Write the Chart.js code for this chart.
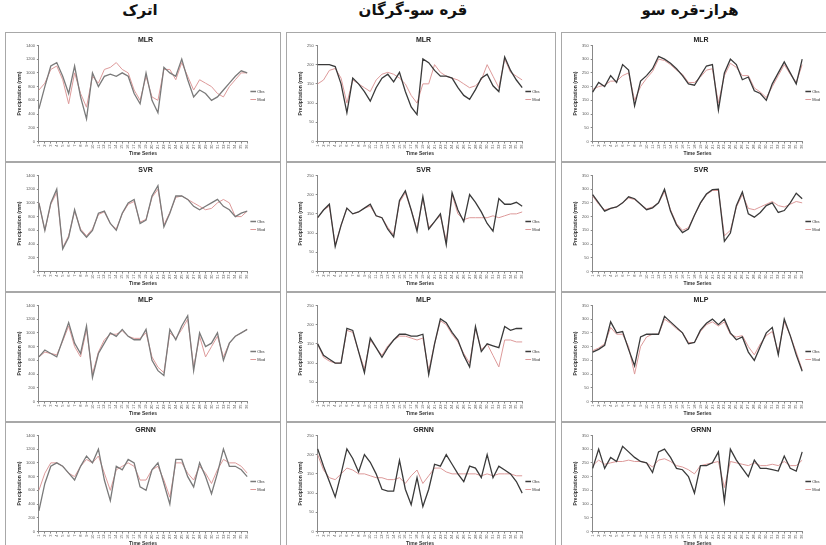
<!DOCTYPE html>
<html>
<head>
<meta charset="utf-8">
<script src="https://cdn.jsdelivr.net/npm/chart.js@4.4.1/dist/chart.umd.min.js"></script>
<style>
  body { margin: 0; background: #fff; width: 826px; height: 545px; overflow: hidden; position: relative; font-family: 'DejaVu Sans', sans-serif; }
  .head { position: absolute; top: 1px; width: 240px; text-align: center; direction: rtl; font-weight: bold; font-size: 15px; color: #111; }
  .panel { position: absolute; border: 1px solid #a8a8a8; box-sizing: border-box; background: #fff; }
  canvas { display: block; }
</style>
</head>
<body>
<script>
// basins (column titles) and models (row titles)
const basins = ['اترک', 'قره سو-گرگان', 'هراز-قره سو']
const models = ['MLR', 'SVR', 'MLP', 'GRNN']
const seriesNames = ['Obs', 'Mod']
const timeLabels = ['1','2','3','4','5','6','7','8','9','10','11','12','13','14','15','16','17','18',
                    '19','20','21','22','23','24','25','26','27','28','29','30','31','32','33','34','35','36']
const yMax = [1400, 250, 350]
const yStep = [200, 50, 50]

// اترک
const atrakMlrObs = [475,800,1100,1150,950,700,1100,650,330,1000,800,950,980,950,1000,950,700,550,1000,600,420,1080,1000,950,1200,900,650,750,700,600,650,750,850,950,1030,1000]
const atrakMlrMod = [750,850,1050,1100,900,550,1000,700,500,950,850,1050,1080,1150,1050,1000,750,600,950,650,600,1050,1050,900,1150,950,750,900,850,800,700,650,800,900,1000,1000]
const atrakSvrObs = [1000,600,1000,1200,330,500,900,600,500,600,850,880,700,600,850,1000,1050,700,750,1100,1250,650,850,1100,1100,1050,950,900,950,1000,1050,950,900,800,850,880]
const atrakSvrMod = [1000,600,980,1150,350,520,880,620,520,620,830,870,700,620,840,980,1020,720,760,1080,1200,680,860,1080,1100,1050,1000,950,900,920,1000,1050,1000,800,800,880]
const atrakMlpObs = [650,750,700,650,900,1150,850,700,1100,350,700,850,1000,950,1050,950,900,900,1050,600,450,380,1050,900,1100,1250,450,1000,800,850,1000,600,850,950,1000,1050]
const atrakMlpMod = [650,720,700,680,880,1100,800,650,1050,400,720,900,980,980,1030,950,920,920,1000,650,500,420,1000,920,1050,1200,500,950,650,800,950,650,850,950,1000,1050]
const atrakGrnnObs = [300,700,950,1000,950,850,750,950,1100,1000,1200,750,450,950,900,1050,1000,650,600,900,1000,700,400,1050,1050,800,650,1000,800,550,850,1200,950,950,900,800]
const atrakGrnnMod = [600,850,1000,1000,950,850,800,950,1050,1000,1100,850,600,900,950,1000,950,750,750,900,950,750,500,1000,1000,850,750,950,850,700,900,1050,1000,1000,950,850]

// قره سو-گرگان
const gorganMlrObs = [200,200,200,195,150,75,165,150,130,105,140,165,175,155,180,130,90,70,215,205,185,170,170,165,140,120,110,135,165,175,145,130,220,185,160,140]
const gorganMlrMod = [150,160,185,190,165,100,160,150,140,130,160,175,180,175,165,150,120,100,150,150,200,180,170,165,160,150,140,145,160,200,170,140,215,180,170,160]
const gorganSvrObs = [140,160,175,65,120,165,150,155,165,175,145,140,110,90,185,210,160,105,195,110,130,150,70,205,160,130,200,180,155,125,105,190,175,175,180,170]
const gorganSvrMod = [140,160,170,70,120,165,150,155,165,170,145,140,115,95,180,205,160,110,190,115,130,145,80,200,150,135,140,140,140,140,145,140,145,150,150,155]
const gorganMlpObs = [150,120,110,100,100,190,185,130,75,165,140,115,140,160,175,175,170,170,175,70,150,215,205,180,160,120,90,195,130,150,145,140,195,185,190,190]
const gorganMlpMod = [150,115,105,100,100,185,180,130,85,160,140,120,145,160,170,170,165,160,165,80,150,210,200,175,155,125,100,190,135,150,120,90,160,160,155,155]
const gorganGrnnObs = [215,170,130,90,150,215,190,155,200,180,150,110,105,105,185,110,70,140,65,110,175,170,200,175,150,130,170,165,140,200,140,170,160,150,130,100]
const gorganGrnnMod = [200,160,140,135,150,165,160,150,150,145,140,140,135,135,140,125,145,160,125,145,165,165,155,150,150,150,150,150,145,150,145,150,150,150,145,145]

// هراز-قره سو
const harazMlrObs = [180,215,200,240,215,280,260,130,220,240,265,310,300,285,265,240,210,205,240,275,280,115,250,300,280,225,235,185,175,150,210,250,290,250,210,300]
const harazMlrMod = [190,200,205,220,220,240,250,150,200,230,255,300,295,280,260,245,215,215,235,260,265,140,240,285,270,240,240,195,180,160,200,240,280,245,215,280]
const harazSvrObs = [280,250,220,230,235,250,272,265,245,225,232,250,300,220,170,142,155,205,250,282,298,300,110,140,240,290,210,198,215,240,250,215,222,250,285,265]
const harazSvrMod = [275,245,225,230,235,250,268,262,245,228,235,250,290,225,175,150,160,205,248,280,295,295,130,150,235,280,230,225,235,245,255,240,235,245,255,250]
const harazMlpObs = [180,190,205,290,250,255,190,130,235,245,245,245,310,290,270,250,210,215,260,285,300,280,300,250,225,235,180,150,200,250,270,170,300,240,170,110]
const harazMlpMod = [185,195,210,270,245,245,200,100,200,235,245,245,300,285,265,250,215,215,255,280,290,275,290,245,235,240,200,170,210,240,255,180,290,240,180,115]
const harazGrnnObs = [230,300,230,270,255,310,290,270,255,250,215,290,300,270,230,225,200,140,240,240,250,290,110,300,260,230,200,260,230,230,225,220,275,230,220,290]
const harazGrnnMod = [240,260,245,250,255,255,260,255,255,250,235,260,265,255,240,235,225,210,240,245,250,255,160,255,250,245,240,250,240,240,245,240,255,240,240,260]

const obsData = [
  [atrakMlrObs, atrakSvrObs, atrakMlpObs, atrakGrnnObs],
  [gorganMlrObs, gorganSvrObs, gorganMlpObs, gorganGrnnObs],
  [harazMlrObs, harazSvrObs, harazMlpObs, harazGrnnObs]
]
const modData = [
  [atrakMlrMod, atrakSvrMod, atrakMlpMod, atrakGrnnMod],
  [gorganMlrMod, gorganSvrMod, gorganMlpMod, gorganGrnnMod],
  [harazMlrMod, harazSvrMod, harazMlpMod, harazGrnnMod]
]

const colLeft = [5, 286, 561]
const colWidth = [276, 270, 275]
const headLeft = [20, 293, 570]
const rowTop = [32, 162, 292, 422]
const panelH = 130

basins.forEach(function(b, c) {
    const h = document.createElement('div')
    h.className = 'head'
    h.style.left = headLeft[c] + 'px'
    h.textContent = b
    document.body.appendChild(h)
})

function build(c, r) {
    const div = document.createElement('div')
    div.className = 'panel'
    div.style.left = colLeft[c] + 'px'
    div.style.top = rowTop[r] + 'px'
    div.style.width = colWidth[c] + 'px'
    div.style.height = panelH + 'px'
    const cv = document.createElement('canvas')
    cv.width = colWidth[c] - 2
    cv.height = panelH - 2
    div.appendChild(cv)
    document.body.appendChild(div)

    const tiny = { size: 4, family: 'Liberation Sans' }
    new Chart(cv.getContext('2d'), {
        type: 'line',
        data: {
            labels: timeLabels,
            datasets: [{
                label: seriesNames[0],
                data: obsData[c][r],
                borderColor: c === 0 ? '#7a7a7a' : '#3a3a3a',
                borderWidth: 1.3
            }, {
                label: seriesNames[1],
                data: modData[c][r],
                borderColor: '#dd9a9a',
                borderWidth: 1
            }]
        },
        options: {
            responsive: false,
            animation: false,
            elements: { point: { radius: 0 }, line: { tension: 0 } },
            layout: { padding: { left: 10, right: 5, top: 0, bottom: 3 } },
            plugins: {
                title: {
                    display: true,
                    text: models[r],
                    color: '#222',
                    font: { size: 7, weight: 'bold', family: 'Liberation Sans' },
                    padding: { top: 3, bottom: 1 }
                },
                legend: {
                    position: 'right',
                    labels: {
                        usePointStyle: true,
                        pointStyle: 'line',
                        boxWidth: 12,
                        padding: 4,
                        color: '#333',
                        font: tiny
                    }
                },
                tooltip: { enabled: false }
            },
            scales: {
                x: {
                    grid: { drawOnChartArea: false, tickLength: 2, color: '#888' },
                    border: { color: '#888' },
                    ticks: { font: tiny, color: '#555', autoSkip: false, maxRotation: 90, minRotation: 90, padding: 1 },
                    title: { display: true, text: 'Time Series', color: '#333', font: { size: 5, weight: 'bold', family: 'Liberation Sans' }, padding: 1 }
                },
                y: {
                    min: 0,
                    max: yMax[c],
                    grid: { drawOnChartArea: false, tickLength: 2, color: '#888' },
                    border: { color: '#888' },
                    ticks: {
                        stepSize: yStep[c], font: tiny, color: '#555', padding: 2,
                        callback: function(value) { return String(value) }
                    },
                    title: { display: true, text: 'Precipitation (mm)', color: '#333', font: { size: 5, weight: 'bold', family: 'Liberation Sans' }, padding: 1 }
                }
            }
        }
    })
}

for (let c = 0; c < 3; c++) {
    for (let r = 0; r < 4; r++) build(c, r)
}
</script>
</body>
</html>
